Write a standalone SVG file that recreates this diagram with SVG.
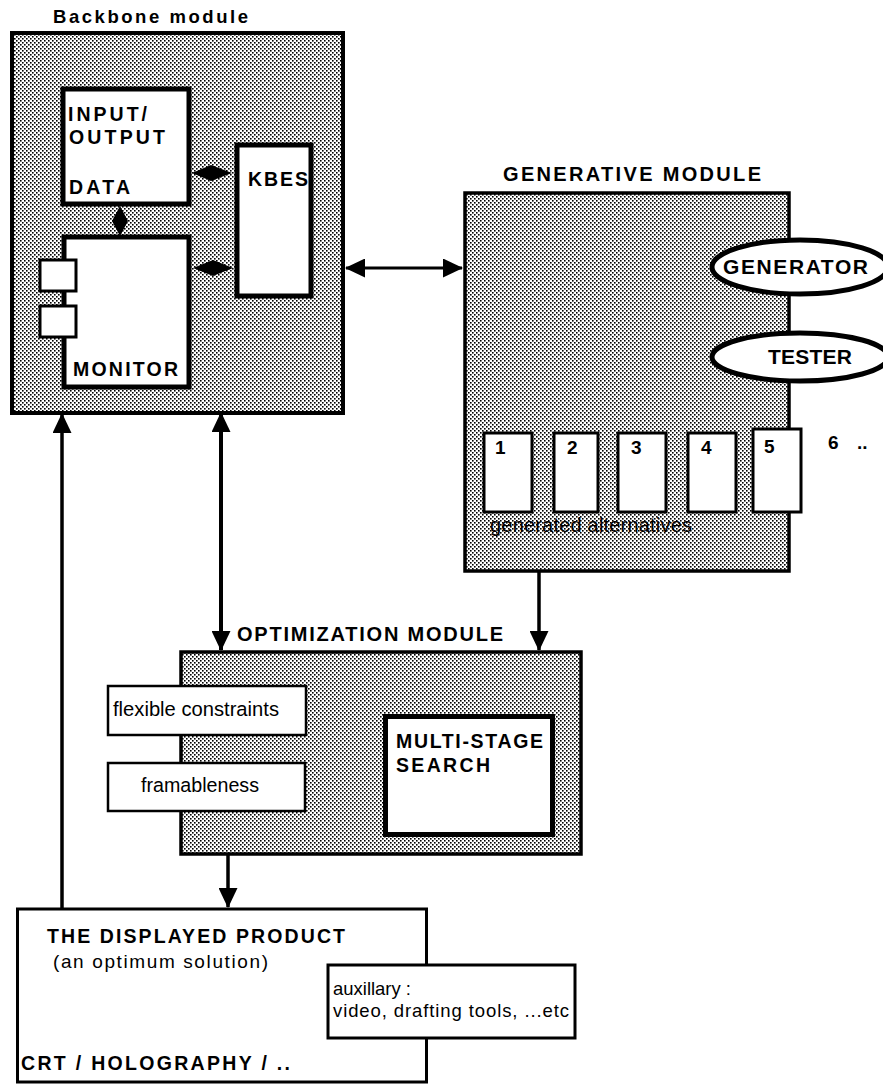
<svg xmlns="http://www.w3.org/2000/svg" width="883" height="1085" viewBox="0 0 883 1085">
<style>
.b{font-family:"Liberation Sans",Arial,sans-serif;font-weight:bold;fill:#000}
.r{font-family:"Liberation Sans",Arial,sans-serif;fill:#000}
.mod{fill:url(#dots);stroke:#000}
.box{fill:#fff;stroke:#000}
.con{stroke:#000;fill:none}
</style>
<defs>
<pattern id="dots" patternUnits="userSpaceOnUse" width="4" height="4">
<rect width="4" height="4" fill="#fff"/>
<rect x="0" y="0" width="1.6" height="1.6" fill="#000"/>
<rect x="2" y="2" width="1.6" height="1.6" fill="#000"/>
</pattern>
<marker id="ah" viewBox="0 0 20 19" refX="19" refY="9.5" markerWidth="20" markerHeight="19" markerUnits="userSpaceOnUse" orient="auto-start-reverse">
<path d="M0,0 L20,9.5 L0,19 Z" fill="#000"/>
</marker>
</defs>
<rect width="883" height="1085" fill="#fff"/>

<g id="backbone">
<text class="b" x="53" y="23" font-size="18.5" textLength="195" lengthAdjust="spacing">Backbone module</text>
<rect class="mod" x="12" y="33" width="331" height="380" stroke-width="4"/>
</g>
<g id="io-data">
<rect class="box" x="63" y="89" width="126" height="115" stroke-width="5"/>
<text class="b" x="68" y="121" font-size="19.5" textLength="79" lengthAdjust="spacing">INPUT/</text>
<text class="b" x="69" y="144" font-size="19.5" textLength="96" lengthAdjust="spacing">OUTPUT</text>
<text class="b" x="69" y="194" font-size="19.5" textLength="61" lengthAdjust="spacing">DATA</text>
</g>
<g id="kbes">
<rect class="box" x="237" y="145" width="74" height="151" stroke-width="5"/>
<text class="b" x="248" y="186" font-size="19.5" textLength="60" lengthAdjust="spacing">KBES</text>
</g>
<g id="monitor">
<rect class="box" x="64" y="237" width="125" height="150" stroke-width="5"/>
<rect class="box" x="40" y="260" width="36" height="31" stroke-width="3"/>
<rect class="box" x="40" y="306" width="36" height="31" stroke-width="3"/>
<text class="b" x="73" y="376" font-size="19.5" textLength="105" lengthAdjust="spacing">MONITOR</text>
</g>

<g id="generative">
<text class="b" x="503" y="181" font-size="20" textLength="258" lengthAdjust="spacing">GENERATIVE MODULE</text>
<rect class="mod" x="465" y="193" width="324" height="378" stroke-width="3.5"/>
<text class="r" x="490" y="532" font-size="20" textLength="202" lengthAdjust="spacing">generated alternatives</text>
</g>
<g id="generator">
<ellipse class="box" cx="800" cy="267" rx="88" ry="27" stroke-width="5"/>
<text class="b" x="723" y="274" font-size="21" textLength="145" lengthAdjust="spacing">GENERATOR</text>
</g>
<g id="tester">
<ellipse class="box" cx="800" cy="357" rx="88" ry="24" stroke-width="5"/>
<text class="b" x="768" y="364" font-size="21" textLength="84" lengthAdjust="spacing">TESTER</text>
</g>
<g id="alternatives">
<rect class="box" x="484" y="433" width="48" height="79" stroke-width="3"/>
<rect class="box" x="554" y="433" width="44" height="79" stroke-width="3"/>
<rect class="box" x="618" y="433" width="48" height="79" stroke-width="3"/>
<rect class="box" x="688" y="433" width="48" height="79" stroke-width="3"/>
<rect class="box" x="753" y="429" width="48" height="83" stroke-width="3"/>
<text class="b" x="495" y="454" font-size="19">1</text>
<text class="b" x="567" y="454" font-size="19">2</text>
<text class="b" x="631" y="454" font-size="19">3</text>
<text class="b" x="701" y="454" font-size="19">4</text>
<text class="b" x="764" y="453" font-size="19">5</text>
<text class="b" x="828" y="449" font-size="19">6</text>
<text class="b" x="857" y="449" font-size="19">..</text>
</g>

<g id="optimization">
<text class="b" x="237" y="641" font-size="20" textLength="266" lengthAdjust="spacing">OPTIMIZATION MODULE</text>
<rect class="mod" x="181" y="652" width="400" height="202" stroke-width="3.5"/>
</g>
<g id="flexible-constraints">
<rect class="box" x="108" y="686" width="198" height="49" stroke-width="2.5"/>
<text class="r" x="113" y="716" font-size="20.5" textLength="166" lengthAdjust="spacingAndGlyphs">flexible constraints</text>
</g>
<g id="framableness">
<rect class="box" x="108" y="763" width="197" height="48" stroke-width="2.5"/>
<text class="r" x="141" y="792" font-size="20.5" textLength="118" lengthAdjust="spacingAndGlyphs">framableness</text>
</g>
<g id="multi-stage-search">
<rect class="box" x="385.5" y="716.5" width="167" height="118" stroke-width="5"/>
<text class="b" x="396" y="748" font-size="19.5" textLength="147" lengthAdjust="spacing">MULTI-STAGE</text>
<text class="b" x="396" y="772" font-size="19.5" textLength="94" lengthAdjust="spacing">SEARCH</text>
</g>

<g id="product">
<rect class="box" x="17.5" y="909" width="409" height="173" stroke-width="3"/>
<text class="b" x="47" y="943" font-size="19.5" textLength="298" lengthAdjust="spacing">THE DISPLAYED PRODUCT</text>
<text class="r" x="53" y="968" font-size="19" textLength="215" lengthAdjust="spacing">(an optimum solution)</text>
<text class="b" x="21" y="1070" font-size="19.5" textLength="269" lengthAdjust="spacing">CRT / HOLOGRAPHY / ..</text>
</g>
<g id="auxillary">
<rect class="box" x="328" y="965" width="247" height="73" stroke-width="3"/>
<text class="r" x="333" y="995" font-size="18.5" textLength="78" lengthAdjust="spacingAndGlyphs">auxillary :</text>
<text class="r" x="333" y="1017" font-size="18.5" textLength="236" lengthAdjust="spacing">video, drafting tools, ...etc</text>
</g>

<g id="connectors">
<line class="con" x1="346" y1="268" x2="462" y2="268" stroke-width="3" marker-start="url(#ah)" marker-end="url(#ah)"/>
<line class="con" x1="221" y1="413" x2="221" y2="650" stroke-width="4" marker-start="url(#ah)" marker-end="url(#ah)"/>
<line class="con" x1="539" y1="572" x2="539" y2="650" stroke-width="3.5" marker-end="url(#ah)"/>
<line class="con" x1="228" y1="855" x2="228" y2="907" stroke-width="3.5" marker-end="url(#ah)"/>
<line class="con" x1="62" y1="908" x2="62" y2="414" stroke-width="3.5" marker-end="url(#ah)"/>
<polygon points="192,173 211,165 232,173 211,181" fill="#000"/>
<polygon points="193,268 213,260 233,268 213,276" fill="#000"/>
<polygon points="120,206 128,221 120,236 112,221" fill="#000"/>
</g>
</svg>
